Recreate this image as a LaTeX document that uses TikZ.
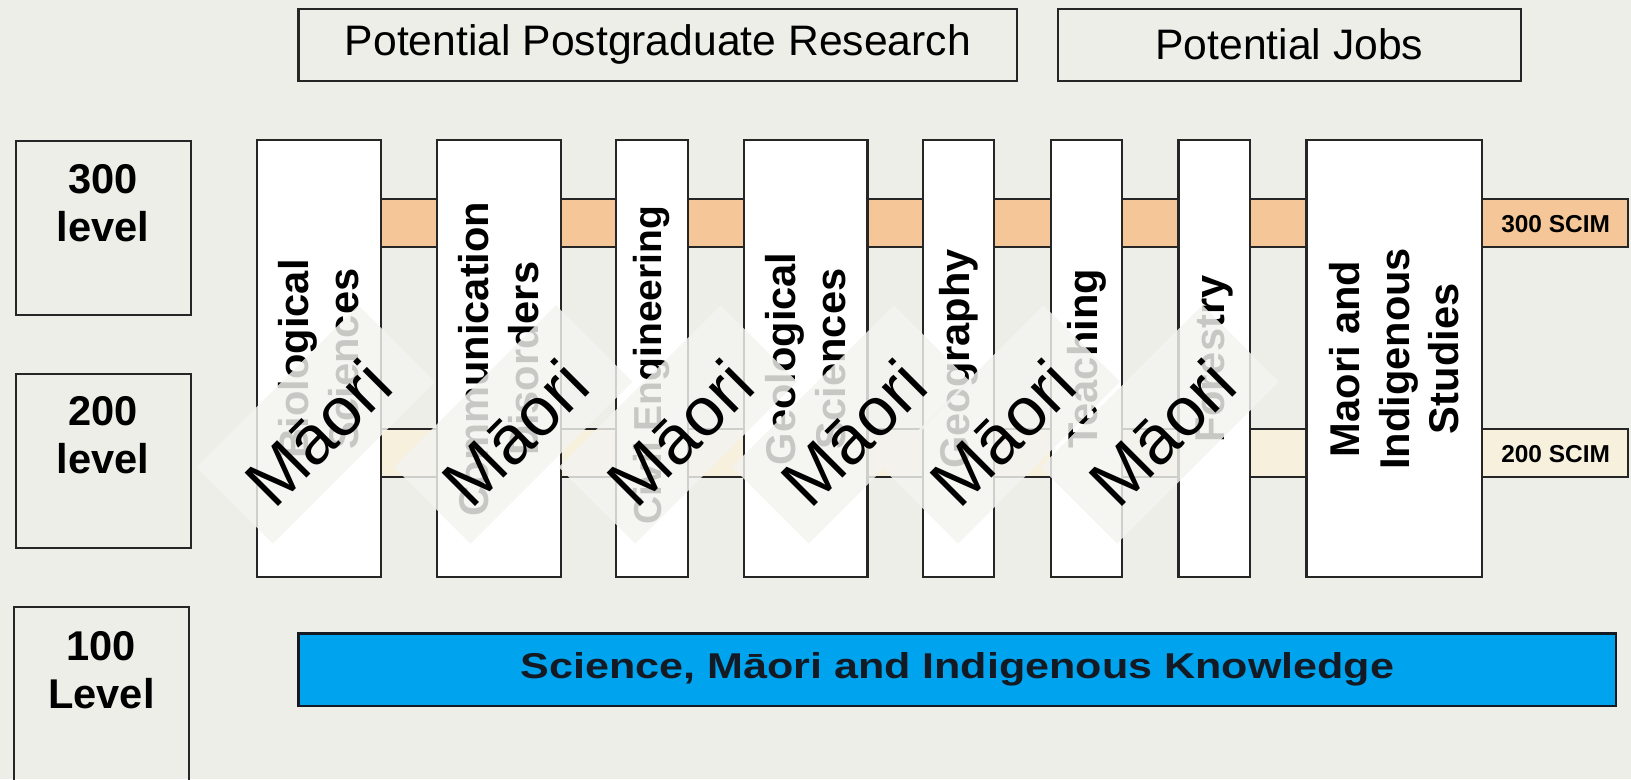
\documentclass[tikz,border=0pt]{standalone}
\usepackage{fontspec}
\setmainfont{Liberation Sans}
\usepackage{graphicx}
\definecolor{bg}{HTML}{EEEEE8}
\definecolor{peach}{HTML}{F5C697}
\definecolor{cream}{HTML}{F7F0DD}
\definecolor{sky}{HTML}{00A3EE}
\definecolor{edge}{HTML}{262626}
\definecolor{navy}{HTML}{141A24}
\definecolor{veil}{HTML}{F3F3F0}
\tikzset{
  mybox/.style={draw=edge, line width=2pt, inner sep=0pt, outer sep=0pt},
  colbox/.style={mybox, fill=white, minimum height=420pt},
  lvlbox/.style={mybox, minimum width=168pt},
  topbox/.style={mybox, minimum height=69pt, font=\fontsize{41}{48}\selectfont},
  coltext/.style={rotate=90, align=center, inner sep=0pt, font=\bfseries\fontsize{40}{47.5}\selectfont},
  lvltext/.style={align=center, inner sep=0pt, font=\bfseries\fontsize{40}{46}\selectfont},
  band/.style={mybox, minimum width=1259pt, minimum height=46.5pt},
  scim/.style={inner sep=0pt, font=\bfseries\fontsize{23.5}{26}\selectfont},
  wpatch/.style={rotate=45, fill=veil, fill opacity=0.82, minimum width=220pt, minimum height=104pt, inner sep=0pt, outer sep=0pt},
  wtext/.style={rotate=45, inner sep=0pt, font=\fontsize{66}{74}\selectfont},
}
\begin{document}
\begin{tikzpicture}[x=1pt,y=-1pt]
\useasboundingbox (0,0) rectangle (1568,749);
\clip (0,0) rectangle (1568,749);
\fill[bg] (0,0) rectangle (1568,749);

% top boxes
\node[topbox, minimum width=691pt] (pgr) at (632.5,43) {Potential Postgraduate Research};
\node[topbox, minimum width=445pt] (jobs) at (1239.5,43) {Potential Jobs};

% level boxes
\node[lvlbox, minimum height=167.5pt] (L3) at (99.3,219) {};
\node[lvltext] (L3t) at (99,195) {300\\level};
\node[lvlbox, minimum height=167.5pt] (L2) at (99.3,443.3) {};
\node[lvltext] (L2t) at (99,418) {200\\level};
\node[lvlbox, minimum height=194pt] (L1) at (97.5,680.5) {};
\node[lvltext] (L1t) at (97.5,644) {100\\Level};

% SCIM bands
\node[band, fill=peach] (b3) at (935.5,214.5) {};
\node[band, fill=cream] (b2) at (935.5,435.5) {};
\node[scim] (b3t) at (1495.5,215.5) {300 SCIM};
\node[scim] (b2t) at (1495.5,437) {200 SCIM};

% columns
\node[colbox, minimum width=119pt] (c1) at (306.5,345) {};
\node[colbox, minimum width=119pt] (c2) at (479.5,345) {};
\node[colbox, minimum width=69pt]  (c3) at (626.5,345) {};
\node[colbox, minimum width=119pt] (c4) at (774.5,345) {};
\node[colbox, minimum width=69pt]  (c5) at (921.5,345) {};
\node[colbox, minimum width=69pt]  (c6) at (1044.5,345) {};
\node[colbox, minimum width=69pt]  (c7) at (1167.5,345) {};
\node[colbox, minimum width=169pt] (c8) at (1340.5,345) {};

\node[coltext] (t1) at (c1.center) {Biological\\Sciences};
\node[coltext] (t2) at (c2.center) {Communication\\Disorders};
\node[coltext, font=\bfseries\fontsize{37.5}{44}\selectfont] (t3) at (626.5,351) {Civil Engineering};
\node[coltext] (t4) at (c4.center) {Geological\\Sciences};
\node[coltext] (t5) at (c5.center) {Geography};
\node[coltext] (t6) at (c6.center) {Teaching};
\node[coltext] (t7) at (c7.center) {Forestry};
\node[coltext] (t8) at (c8.center) {Maori and\\Indigenous\\Studies};

% 100 level bar
\node[mybox, draw=navy, fill=sky, minimum width=1266.6pt, minimum height=69.4pt,
      font=\bfseries\fontsize{34.5}{40}\selectfont, text=navy] (kn) at (920.3,643.7)
      {\scalebox{1.2}[1]{Science, Māori and Indigenous Knowledge}};

% watermarks
\foreach \i/\x in {1/305.5, 2/495.3, 3/653.7, 4/820.4, 5/964, 6/1117}
  \node[wpatch] (p\i) at (\x-2,408) {};
\foreach \i/\x in {1/305.5, 2/495.3, 3/653.7, 4/820.4, 5/964, 6/1117}
  \node[wtext] (w\i) at (\x,416) {Māori};
\end{tikzpicture}
\end{document}
